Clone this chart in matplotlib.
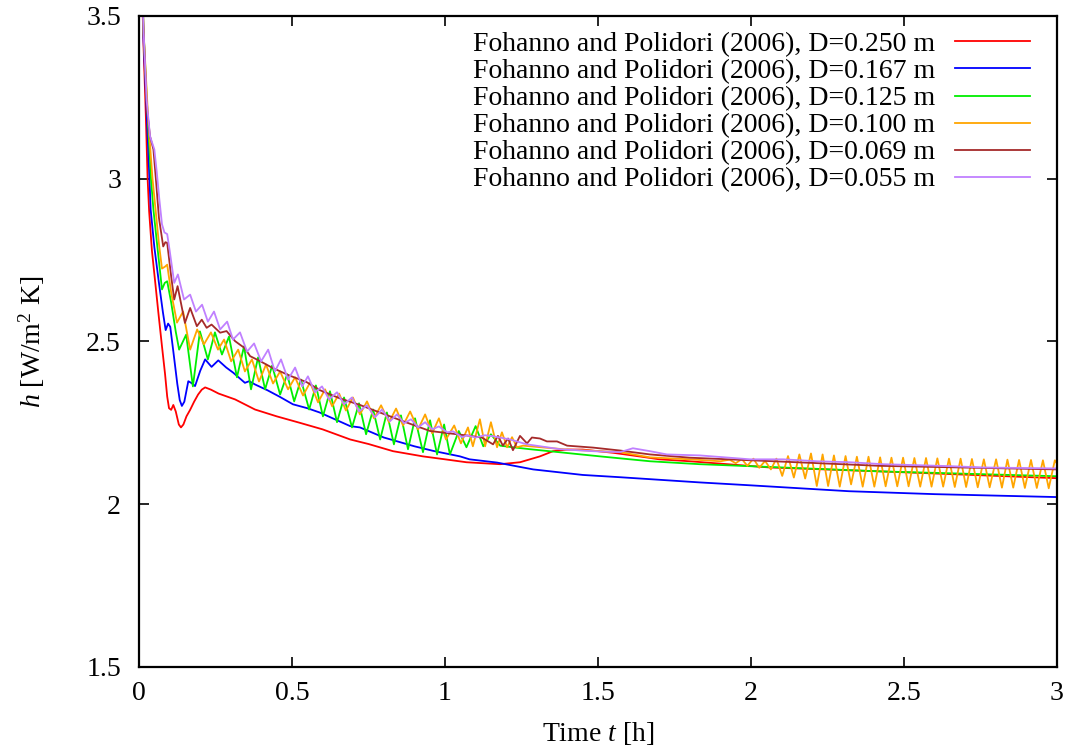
import matplotlib
matplotlib.use("Agg")
import matplotlib.pyplot as plt
from matplotlib.ticker import FuncFormatter, MultipleLocator

# ------------------------ #
# DATA
# ------------------------ #

labels = [
    "Fohanno and Polidori (2006), D=0.250 m",
    "Fohanno and Polidori (2006), D=0.167 m",
    "Fohanno and Polidori (2006), D=0.125 m",
    "Fohanno and Polidori (2006), D=0.100 m",
    "Fohanno and Polidori (2006), D=0.069 m",
    "Fohanno and Polidori (2006), D=0.055 m",
]
colors = ["#ff0000", "#0000ff", "#00ee00", "#ffa500", "#a52a2a", "#c080ff"]

# D = 0.250 m
red_t = [0.005, 0.015, 0.022, 0.028, 0.033, 0.042, 0.052, 0.063, 0.075, 0.085,
         0.092, 0.098, 0.105, 0.112, 0.12, 0.13, 0.137, 0.145, 0.155, 0.167,
         0.18, 0.193, 0.205, 0.216, 0.235, 0.26, 0.314, 0.379, 0.45, 0.526,
         0.6, 0.69, 0.75, 0.83, 0.928, 1.0, 1.07, 1.18, 1.245, 1.31,
         1.353, 1.4, 1.45, 1.55, 1.65, 1.7, 1.8, 2.06, 2.42, 3.0]
red_h = [3.75, 3.4, 3.2, 3.0, 2.9, 2.78, 2.69, 2.59, 2.485, 2.40,
         2.331, 2.295, 2.29, 2.305, 2.285, 2.245, 2.236, 2.245, 2.27, 2.29,
         2.315, 2.337, 2.352, 2.359, 2.352, 2.34, 2.322, 2.291, 2.27, 2.25,
         2.23, 2.199, 2.185, 2.163, 2.147, 2.138, 2.129, 2.123, 2.129, 2.147,
         2.163, 2.168, 2.168, 2.158, 2.145, 2.138, 2.132, 2.113, 2.101, 2.08]

# D = 0.167 m
blue_t = [0.005, 0.015, 0.025, 0.034, 0.038, 0.05, 0.065, 0.078, 0.087, 0.095,
          0.102, 0.112, 0.125, 0.133, 0.14, 0.148, 0.161, 0.172, 0.183, 0.2,
          0.216, 0.237, 0.259, 0.285, 0.308, 0.346, 0.36, 0.379, 0.42, 0.46,
          0.503, 0.55, 0.59, 0.69, 0.722, 0.8, 0.9, 0.961, 1.049, 1.08,
          1.17, 1.288, 1.45, 1.572, 1.67, 1.833, 2.0, 2.32, 2.6, 3.0]
blue_h = [3.75, 3.42, 3.2, 3.0, 2.905, 2.79, 2.68, 2.59, 2.535, 2.555,
          2.545, 2.47, 2.37, 2.32, 2.302, 2.315, 2.378, 2.372, 2.363, 2.41,
          2.445, 2.422, 2.442, 2.42, 2.404, 2.373, 2.378, 2.368, 2.35, 2.33,
          2.307, 2.295, 2.282, 2.24, 2.236, 2.205, 2.178, 2.164, 2.147, 2.138,
          2.128, 2.107, 2.09, 2.083, 2.077, 2.067, 2.058, 2.04, 2.031, 2.022]

# D = 0.125 m
green_t = [0.005, 0.015, 0.025, 0.039, 0.047, 0.06, 0.075, 0.084, 0.092,
           0.105, 0.12, 0.131, 0.154, 0.176, 0.199, 0.225, 0.248, 0.271, 0.294, 0.320,
           0.343, 0.366, 0.389, 0.412, 0.435, 0.461, 0.484, 0.507, 0.529, 0.556,
           0.578, 0.601, 0.624, 0.647, 0.670, 0.696, 0.719, 0.742, 0.765, 0.788,
           0.810, 0.833, 0.856, 0.879, 0.902, 0.928, 0.951, 0.974, 0.997, 1.016,
           1.045, 1.07, 1.10, 1.125, 1.15, 1.18, 1.222, 1.278, 1.507, 1.67,
           1.833, 2.422, 3.0]
green_h = [3.75, 3.45, 3.25, 3.0, 2.905, 2.79, 2.66, 2.68, 2.685,
           2.62, 2.53, 2.475, 2.521, 2.362, 2.531, 2.445, 2.528, 2.460, 2.515, 2.390,
           2.485, 2.353, 2.451, 2.353, 2.426, 2.337, 2.399, 2.316, 2.383, 2.291,
           2.365, 2.270, 2.347, 2.252, 2.328, 2.236, 2.310, 2.215, 2.291, 2.199,
           2.282, 2.184, 2.273, 2.169, 2.264, 2.160, 2.258, 2.153, 2.245, 2.153,
           2.225, 2.175, 2.24, 2.178, 2.215, 2.18, 2.175, 2.169, 2.147, 2.132,
           2.123, 2.101, 2.086]

# D = 0.100 m
orange_t = [0.005, 0.015, 0.03, 0.044, 0.054, 0.065, 0.075, 0.085, 0.092, 0.105,
            0.124, 0.144, 0.167, 0.190, 0.212, 0.235, 0.258, 0.278, 0.301, 0.324,
            0.346, 0.369, 0.392, 0.415, 0.438, 0.461, 0.487, 0.510, 0.536, 0.559,
            0.585, 0.608, 0.631, 0.654, 0.676, 0.699, 0.722, 0.745, 0.768, 0.791,
            0.817, 0.840, 0.863, 0.886, 0.912, 0.935, 0.958, 0.980, 1.003, 1.03,
            1.052, 1.075, 1.091, 1.114, 1.131, 1.150, 1.170, 1.186, 1.203, 1.219,
            1.235, 1.255, 1.29, 1.40, 1.572, 1.67, 1.8, 1.9, 1.93, 1.95,
            1.97, 1.988, 2.008, 2.027,
            2.046, 2.065, 2.083, 2.102, 2.121, 2.140, 2.158, 2.177, 2.196, 2.215,
            2.234, 2.252, 2.271, 2.290, 2.309, 2.327, 2.346, 2.365, 2.384, 2.403,
            2.422, 2.440, 2.459, 2.478, 2.497, 2.515, 2.534, 2.553, 2.572, 2.590,
            2.609, 2.628, 2.647, 2.666, 2.685, 2.703, 2.722, 2.741, 2.761, 2.780,
            2.801, 2.820, 2.838, 2.857, 2.876, 2.895, 2.915, 2.934, 2.954, 2.973,
            2.993, 3.0]
orange_h = [3.75, 3.45, 3.18, 3.0, 2.905, 2.80, 2.724, 2.73, 2.736, 2.65,
            2.558, 2.592, 2.475, 2.537, 2.491, 2.528, 2.475, 2.506, 2.439, 2.475,
            2.408, 2.445, 2.377, 2.429, 2.371, 2.408, 2.353, 2.390, 2.334, 2.374,
            2.313, 2.353, 2.301, 2.340, 2.288, 2.328, 2.276, 2.316, 2.264, 2.304,
            2.252, 2.294, 2.242, 2.285, 2.230, 2.276, 2.218, 2.264, 2.199, 2.242,
            2.187, 2.236, 2.178, 2.261, 2.178, 2.252, 2.175, 2.221, 2.175, 2.206,
            2.175, 2.18, 2.177, 2.168, 2.16, 2.144, 2.138, 2.132, 2.137, 2.126,
            2.139, 2.118, 2.140, 2.112,
            2.133, 2.107, 2.140, 2.087, 2.148, 2.082, 2.153, 2.079, 2.156, 2.056,
            2.153, 2.056, 2.150, 2.054, 2.148, 2.061, 2.146, 2.054, 2.146, 2.054,
            2.144, 2.055, 2.143, 2.055, 2.143, 2.055, 2.142, 2.054, 2.142, 2.054,
            2.141, 2.054, 2.140, 2.053, 2.140, 2.053, 2.139, 2.052, 2.138, 2.052,
            2.138, 2.051, 2.137, 2.051, 2.136, 2.050, 2.136, 2.050, 2.135, 2.049,
            2.135, 2.125]

# D = 0.069 m
brown_t = [0.005, 0.015, 0.025, 0.036, 0.047, 0.055, 0.065, 0.079, 0.086, 0.092,
           0.105, 0.115, 0.126, 0.150, 0.167, 0.189, 0.205, 0.221, 0.237, 0.265,
           0.286, 0.314, 0.33, 0.345, 0.363, 0.395, 0.438, 0.493, 0.548, 0.592,
           0.657, 0.722, 0.778, 0.863, 0.951, 1.039, 1.082, 1.12, 1.157, 1.173,
           1.189, 1.206, 1.222, 1.245, 1.268, 1.284, 1.31, 1.333, 1.366, 1.399,
           1.484, 1.572, 1.67, 1.80, 2.0, 2.42, 3.0]
brown_h = [3.75, 3.45, 3.22, 3.13, 3.09, 3.0, 2.88, 2.792, 2.805, 2.803,
           2.70, 2.629, 2.67, 2.557, 2.603, 2.547, 2.567, 2.542, 2.552, 2.527,
           2.532, 2.501, 2.49, 2.48, 2.455, 2.44, 2.418, 2.395, 2.375, 2.35,
           2.325, 2.305, 2.285, 2.255, 2.225, 2.215, 2.21, 2.205, 2.184, 2.21,
           2.18, 2.202, 2.166, 2.21, 2.187, 2.205, 2.202, 2.193, 2.193, 2.18,
           2.174, 2.165, 2.153, 2.143, 2.135, 2.118, 2.107]

# D = 0.055 m
purple_t = [0.005, 0.015, 0.025, 0.036, 0.05, 0.058, 0.066, 0.075, 0.083, 0.092,
            0.10, 0.115, 0.127, 0.147, 0.167, 0.186, 0.206, 0.225, 0.245, 0.265,
            0.288, 0.307, 0.330, 0.353, 0.376, 0.399, 0.422, 0.444, 0.464, 0.487,
            0.510, 0.533, 0.552, 0.575, 0.598, 0.621, 0.647, 0.670, 0.696, 0.719,
            0.745, 0.771, 0.794, 0.820, 0.843, 0.866, 0.889, 0.912, 0.935, 0.958,
            0.980, 1.007, 1.026, 1.056, 1.072, 1.10, 1.13, 1.157, 1.212, 1.268,
            1.333, 1.376, 1.484, 1.572, 1.614, 1.67, 1.725, 1.833, 1.997, 2.105,
            2.216, 2.324, 2.431, 2.542, 2.650, 2.758, 3.0]
purple_h = [3.75, 3.45, 3.24, 3.13, 3.09, 3.02, 2.94, 2.86, 2.835, 2.83,
            2.78, 2.68, 2.706, 2.629, 2.644, 2.592, 2.613, 2.561, 2.592, 2.537,
            2.561, 2.506, 2.528, 2.469, 2.494, 2.439, 2.475, 2.408, 2.445, 2.383,
            2.420, 2.362, 2.393, 2.344, 2.362, 2.322, 2.344, 2.307, 2.328, 2.285,
            2.304, 2.267, 2.291, 2.255, 2.276, 2.249, 2.261, 2.236, 2.252, 2.230,
            2.239, 2.221, 2.224, 2.206, 2.212, 2.205, 2.212, 2.209, 2.199, 2.184,
            2.175, 2.169, 2.163, 2.160, 2.172, 2.163, 2.153, 2.150, 2.138, 2.138,
            2.132, 2.129, 2.123, 2.120, 2.117, 2.113, 2.110]

series = [(red_t, red_h), (blue_t, blue_h), (green_t, green_h),
          (orange_t, orange_h), (brown_t, brown_h), (purple_t, purple_h)]

# ------------------------ #
# PLOTTING
# ------------------------ #

plt.rcParams["font.family"] = ["Liberation Serif", "DejaVu Serif"]
plt.rcParams["mathtext.fontset"] = "custom"
plt.rcParams["mathtext.rm"] = "Liberation Serif"
plt.rcParams["mathtext.it"] = "Liberation Serif:italic"

fs = 20

fig = plt.figure(figsize=(10.72, 7.54), dpi=100)
ax = fig.add_axes([0.1297, 0.1154, 0.8563, 0.8634])

for (t, h), lab, col in zip(series, labels, colors):
    ax.plot(t, h, color=col, lw=1.3, label=lab, solid_joinstyle="round")

ax.set_xlim(0, 3)
ax.set_ylim(1.5, 3.5)
ax.xaxis.set_major_locator(MultipleLocator(0.5))
ax.yaxis.set_major_locator(MultipleLocator(0.5))
fmt = FuncFormatter(lambda v, p: "%g" % v)
ax.xaxis.set_major_formatter(fmt)
ax.yaxis.set_major_formatter(fmt)

ax.tick_params(direction="in", top=True, right=True, length=7, width=1.2,
               labelsize=fs)
ax.tick_params(axis="x", pad=10)
ax.tick_params(axis="y", pad=13)
for s in ax.spines.values():
    s.set_linewidth(1.6)

ax.set_xlabel("Time $t$ [h]", fontsize=fs, labelpad=10)
ax.set_ylabel("$h$ [W/m$^2$ K]", fontsize=fs, labelpad=28)

ax.legend(loc="upper right", bbox_to_anchor=(0.9706, 0.976),
          frameon=False, markerfirst=False, fontsize=fs,
          handlelength=2.7, handletextpad=0.72, labelspacing=0.06,
          borderaxespad=0.0, borderpad=0.0)

fig.savefig("out.png", dpi=100)
